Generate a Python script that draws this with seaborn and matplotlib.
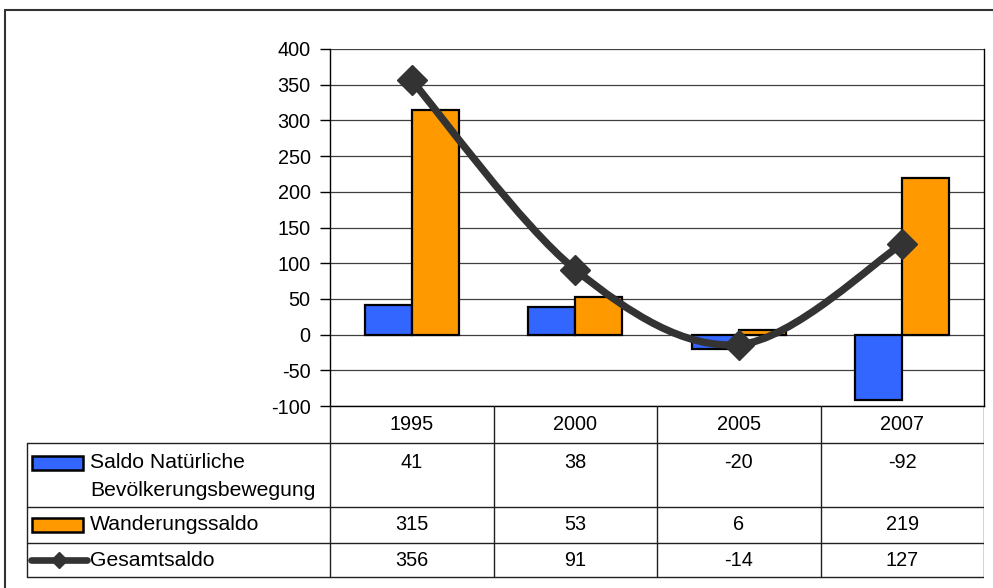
import numpy as np
import pandas as pd
import seaborn as sns
import matplotlib.pyplot as plt
from matplotlib.path import Path
from matplotlib.patches import PathPatch, Rectangle
from matplotlib.lines import Line2D

# Bevölkerungssaldo (in Tausend)
jahre = ["1995", "2000", "2005", "2007"]
natuerlich = [41, 38, -20, -92]
wanderung = [315, 53, 6, 219]
gesamt = [356, 91, -14, 127]
reihen = ["Saldo Natürliche\nBevölkerungsbewegung", "Wanderungssaldo", "Gesamtsaldo"]
y_ticks = list(range(-100, 401, 50))

BLAU = "#3366FF"
ORANGE = "#FF9900"
GRAU = "#333333"
FS = 14.3
FS_LBL = 15.2

sns.set_theme(style="white")
plt.rcParams["font.family"] = ["Liberation Sans", "DejaVu Sans"]

W, H = 993, 588
fig = plt.figure(figsize=(W / 100, H / 100), dpi=100)

def px_axes(x0, y0, x1, y1):
    return fig.add_axes([x0 / W, 1 - y1 / H, (x1 - x0) / W, (y1 - y0) / H])

# --- Diagrammfläche ---
ax = px_axes(330, 49, 984, 406)
df = pd.DataFrame({
    "Jahr": jahre * 2,
    "Reihe": [reihen[0]] * len(jahre) + [reihen[1]] * len(jahre),
    "Wert": natuerlich + wanderung,
})
sns.barplot(data=df, x="Jahr", y="Wert", hue="Reihe", order=jahre,
            palette=[BLAU, ORANGE], saturation=1, width=0.576,
            edgecolor="black", linewidth=1.6, errorbar=None, legend=False,
            ax=ax, zorder=3)

ax.set_xlim(-0.5, len(jahre) - 0.5)
ax.set_ylim(y_ticks[0], y_ticks[-1])
ax.set_yticks(y_ticks)
ax.set_yticklabels([str(t) for t in y_ticks], fontsize=FS, color="black")
ax.set_xticks([])
ax.set_xlabel("")
ax.set_ylabel("")
ax.tick_params(axis="y", direction="out", length=7, width=1, color="black",
               pad=7, left=True)
for t in y_ticks:
    ax.axhline(t, color="#404040", lw=0.9, zorder=1)
for side in ["left", "right"]:
    ax.spines[side].set_visible(True)
    ax.spines[side].set_color("black")
    ax.spines[side].set_linewidth(1)
ax.spines["top"].set_visible(False)
ax.spines["bottom"].set_visible(True)
ax.spines["bottom"].set_color("black")
ax.spines["bottom"].set_linewidth(1)
ax.patch.set_alpha(0)

# geglättete Linie für den Gesamtsaldo (Bezier-Segmente zwischen den Punkten)
xs = np.arange(len(gesamt), dtype=float)
ys = np.array(gesamt, dtype=float)
pts = np.column_stack([xs, ys])
verts = [tuple(pts[0])]
codes = [Path.MOVETO]
n = len(pts)
for i in range(n - 1):
    p_prev = pts[max(i - 1, 0)]
    p0, p1 = pts[i], pts[i + 1]
    p_next = pts[min(i + 2, n - 1)]
    c1 = p0 + (p1 - p_prev) / 6.0
    c2 = p1 - (p_next - p0) / 6.0
    verts += [tuple(c1), tuple(c2), tuple(p1)]
    codes += [Path.CURVE4] * 3
curve = PathPatch(Path(verts, codes), fill=False, edgecolor=GRAU, lw=5.3,
                  capstyle="round", joinstyle="round", zorder=4)
ax.add_patch(curve)
ax.plot(xs, ys, ls="none", marker="D", ms=15, color=GRAU, zorder=5)

# --- Datentabelle ---
tx = px_axes(5, 406, 984, 588)
tx.set_xlim(5, 984)
tx.set_ylim(588, 406)
tx.axis("off")
tx.patch.set_alpha(0)

col_edges = np.linspace(330, 984, len(jahre) + 1)
row_edges = [406, 443, 507, 543, 577]
lc = "#202020"
lw = 1.0
# Spaltenlinien
for cx in col_edges:
    tx.plot([cx, cx], [row_edges[0], row_edges[-1]], color=lc, lw=lw)
tx.plot([27, 27], [row_edges[1], row_edges[-1]], color=lc, lw=lw)
# Zeilenlinien
for ry in row_edges[1:]:
    tx.plot([27, 984], [ry, ry], color=lc, lw=lw)

centers = (col_edges[:-1] + col_edges[1:]) / 2
for cx, j in zip(centers, jahre):
    tx.text(cx, 424, j, ha="center", va="center", fontsize=FS, color="black")

werte = [natuerlich, wanderung, gesamt]
text_y = [463, 525, 560]
for vals, ty in zip(werte, text_y):
    for cx, v in zip(centers, vals):
        tx.text(cx, ty, str(v), ha="center", va="center", fontsize=FS,
                color="black")

# Legendensymbole
tx.add_patch(Rectangle((32, 456), 51, 14, facecolor=BLAU, edgecolor="black",
                       lw=1.8))
tx.add_patch(Rectangle((32, 518), 51, 14, facecolor=ORANGE, edgecolor="black",
                       lw=1.8))
tx.plot([31, 87], [560, 560], color=GRAU, lw=4.8, solid_capstyle="round")
tx.plot([59], [560], marker="D", ms=8, color=GRAU)

tx.text(90, 463, "Saldo Natürliche", ha="left", va="center", fontsize=FS_LBL,
        color="black")
tx.text(90, 490, "Bevölkerungsbewegung", ha="left", va="center",
        fontsize=FS_LBL, color="black")
tx.text(90, 525, reihen[1], ha="left", va="center", fontsize=FS_LBL,
        color="black")
tx.text(90, 560, reihen[2], ha="left", va="center", fontsize=FS_LBL,
        color="black")

# äußerer Rahmen
fig.add_artist(Line2D([5 / W, 1], [1 - 10 / H, 1 - 10 / H], color=GRAU, lw=1.5))
fig.add_artist(Line2D([5 / W, 5 / W], [0, 1 - 10 / H], color=GRAU, lw=1.5))

fig.savefig("out.png", dpi=100)
